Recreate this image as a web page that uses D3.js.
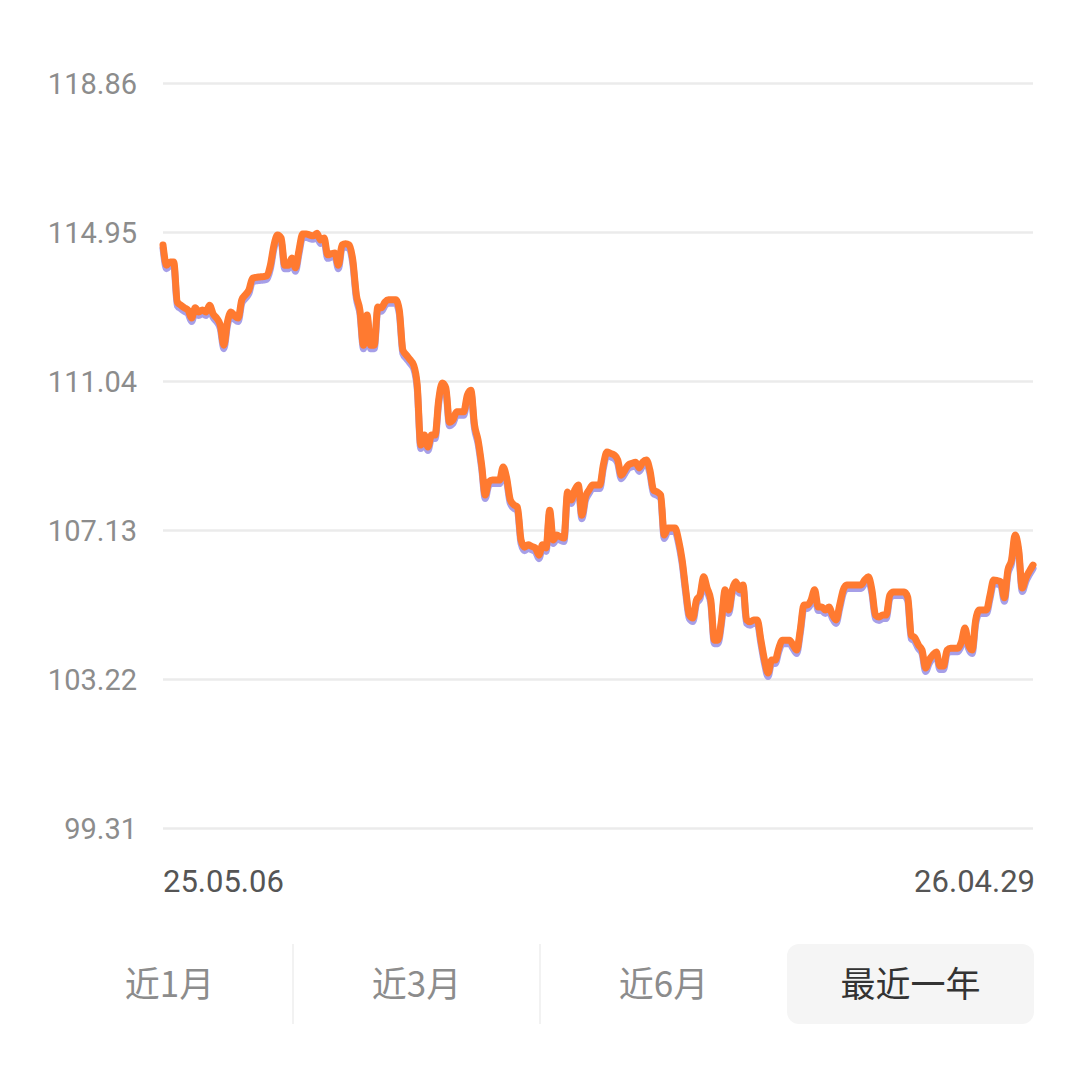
<!DOCTYPE html>
<html><head><meta charset="utf-8">
<script src="https://cdn.jsdelivr.net/npm/d3@7"></script>
<style>
html,body{margin:0;padding:0;background:#fff;}
svg{display:block;font-family:Roboto,"Noto Sans","Noto Sans CJK SC",sans-serif;}
</style></head>
<body>
<svg id="c" width="1080" height="1077"></svg>
<script>
const startLabel = "25.05.06";
const endLabel = "26.04.29";
const yTicks = [99.31, 103.22, 107.13, 111.04, 114.95, 118.86];
const tabs = ["近1月", "近3月", "近6月", "最近一年"];
const selectedTab = "最近一年";
const navValues = [
114.61,114.08,114.16,114.16,113.11,113.03,112.96,112.90,112.69,112.96,
112.85,112.90,112.85,113.03,112.80,112.69,112.51,111.98,112.59,112.85,
112.75,112.69,113.17,113.30,113.43,113.74,113.76,113.77,113.78,113.80,
114.08,114.61,114.87,114.79,114.08,114.08,114.27,114.01,114.48,114.90,
114.90,114.87,114.85,114.92,114.74,114.79,114.35,114.38,114.40,114.08,
114.61,114.64,114.61,114.22,113.30,112.90,111.98,112.77,111.98,111.98,
112.98,112.96,113.11,113.17,113.17,113.17,112.90,111.85,111.72,111.60,
111.46,110.94,109.36,109.62,109.31,109.62,109.62,110.54,110.99,110.86,
109.96,110.02,110.23,110.23,110.23,110.67,110.80,109.89,109.49,108.84,
108.05,108.39,108.44,108.44,108.44,108.78,108.49,107.92,107.79,107.73,
106.87,106.68,106.74,106.70,106.66,106.47,106.74,106.66,107.65,106.87,
107.00,106.95,106.92,108.13,107.92,108.18,108.31,107.52,108.00,108.18,
108.31,108.31,108.31,108.84,109.18,109.14,109.10,108.97,108.57,108.70,
108.84,108.88,108.91,108.76,108.91,108.97,108.70,108.18,108.13,108.05,
107.00,107.18,107.18,107.18,106.87,106.34,105.56,104.90,104.82,105.29,
105.42,105.90,105.60,105.29,104.24,104.24,104.77,105.56,105.03,105.56,
105.77,105.56,105.69,104.77,104.72,104.77,104.77,104.24,103.72,103.38,
103.72,103.72,104.03,104.24,104.24,104.24,104.11,103.98,104.51,105.16,
105.16,105.29,105.56,105.11,105.11,105.03,105.11,104.90,104.77,105.16,
105.56,105.69,105.69,105.69,105.69,105.69,105.82,105.90,105.56,104.90,
104.85,104.90,104.90,105.42,105.50,105.50,105.50,105.50,105.37,104.37,
104.30,104.11,103.98,103.51,103.72,103.85,103.93,103.56,103.56,103.98,
104.03,104.03,104.03,104.19,104.56,104.11,103.98,104.77,105.03,105.03,
105.03,105.42,105.82,105.80,105.77,105.35,106.08,106.34,107.00,106.61,
105.61,105.87,106.05,106.21
];

const svg = d3.select("#c");
const mLeft = 163, mRight = 1033, mTop = 83, mBottom = 828;
const x = d3.scaleLinear().domain([0, navValues.length - 1]).range([mLeft, mRight]);
const y = d3.scaleLinear().domain([99.31, 118.86]).range([mBottom, mTop]);

// grid + y labels
const yAxis = d3.axisLeft(y).tickValues(yTicks).tickSize(-(mRight - mLeft)).tickFormat(d3.format(".2f")).tickPadding(26);
const ga = svg.append("g").attr("transform", `translate(${mLeft},0)`).call(yAxis);
ga.select(".domain").remove();
ga.selectAll(".tick line").attr("stroke", "#ebebeb").attr("stroke-width", 2.5);
ga.selectAll(".tick text").attr("fill", "#8c8c8c").style("font-size", "29px").style("font-family", "Roboto,sans-serif").attr("dy", "0.35em");

// x labels
svg.append("text").attr("x", mLeft).attr("y", 892).attr("fill", "#555").style("font-size", "31px").text(startLabel);
svg.append("text").attr("x", mRight + 2).attr("y", 892).attr("text-anchor", "end").attr("fill", "#555").style("font-size", "31px").text(endLabel);

// line with shadow
const line = d3.line().x((d, i) => x(i)).y(d => y(d)).curve(d3.curveMonotoneX);
svg.append("path").datum(navValues).attr("d", line).attr("transform", "translate(0,3.5)")
  .attr("fill", "none").attr("stroke", "#9c95e6").attr("stroke-width", 7).attr("stroke-linejoin", "round").attr("stroke-linecap", "round").attr("opacity", 0.9);
svg.append("path").datum(navValues).attr("d", line)
  .attr("fill", "none").attr("stroke", "#ff7a30").attr("stroke-width", 7).attr("stroke-linejoin", "round").attr("stroke-linecap", "round");

// tabs
const tabX = d3.scaleBand().domain(tabs).range([46, 1034]);
const tg = svg.append("g");
tg.selectAll("rect.sel").data(tabs.filter(t => t === selectedTab)).join("rect")
  .attr("x", d => tabX(d)).attr("y", 944).attr("width", tabX.bandwidth()).attr("height", 80)
  .attr("rx", 12).attr("fill", "#f5f5f5");
tg.selectAll("line.div").data(tabs.slice(1, 3)).join("line")
  .attr("x1", d => tabX(d)).attr("x2", d => tabX(d)).attr("y1", 944).attr("y2", 1024)
  .attr("stroke", "#eeeeee").attr("stroke-width", 1.5);
tg.selectAll("text").data(tabs).join("text")
  .attr("x", d => tabX(d) + tabX.bandwidth() / 2).attr("y", 985).attr("dy", "0.35em")
  .attr("text-anchor", "middle").style("font-size", "35px")
  .style("font-family", "'Noto Sans CJK SC',sans-serif")
  .attr("fill", d => d === selectedTab ? "#333" : "#8c8c8c").text(d => d);
</script>
</body></html>
